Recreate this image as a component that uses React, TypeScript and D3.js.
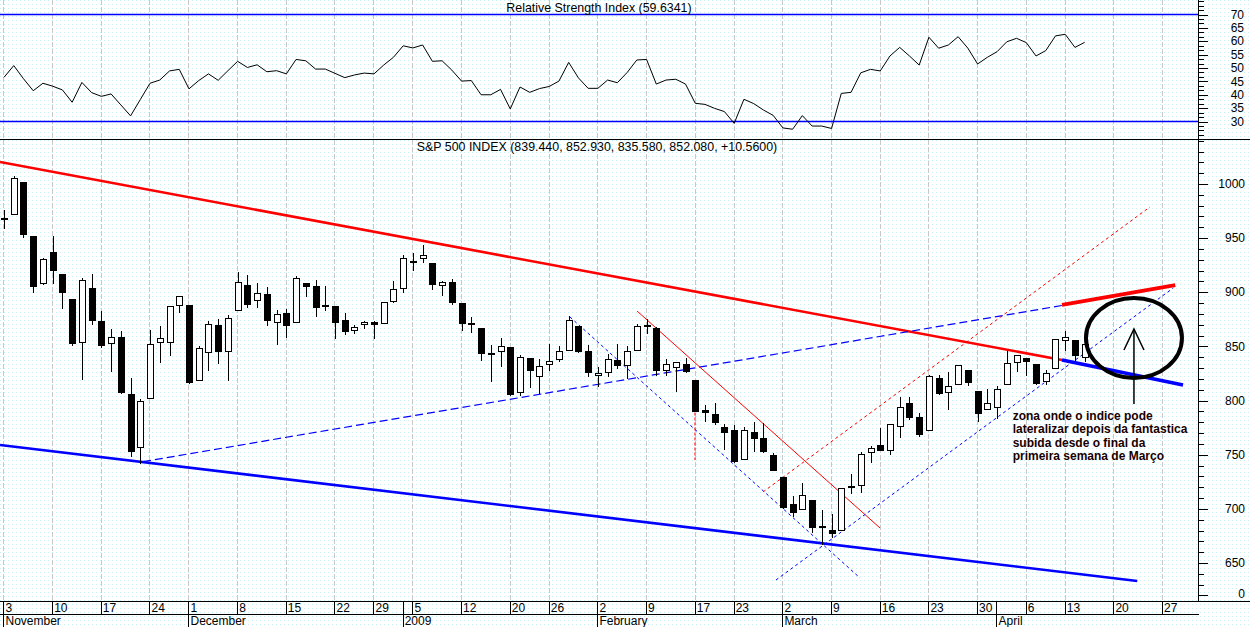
import React from 'react';
import * as d3 from 'd3';

// ---------- DATA (S&P 500 daily, Nov 3 2008 -> Apr 15 2009; index = trading day) ----------
const openP = [968.67, 971.31, 1001.84, 952.40, 907.44, 936.75, 917.15, 893.39, 853.13, 904.36, 873.23, 852.34, 859.03, 805.87, 755.84, 801.20, 853.40, 852.90, 886.89,
  888.61, 817.94, 843.60, 869.75, 844.43, 882.71, 906.48, 892.17, 898.35, 871.79, 881.07, 871.53, 908.16, 905.98, 886.96, 887.20, 874.31, 863.87, 869.51, 872.37, 870.58, 890.59,
  902.99, 929.17, 931.17, 927.45, 905.73, 909.91, 890.40, 869.79, 867.28, 841.99, 844.45, 849.64, 806.77, 839.74, 822.16, 832.50, 837.30, 845.73, 868.89, 845.69,
  823.09, 825.69, 837.77, 831.75, 846.09, 868.24, 866.87, 827.41, 829.91, 833.95, 818.61, 791.06, 787.91, 775.87, 773.25, 744.69, 770.64, 765.76, 749.93,
  729.57, 704.44, 698.60, 708.27, 684.04, 680.76, 679.28, 719.59, 720.89, 751.97, 758.84, 753.88, 776.01, 797.92, 784.58, 772.31, 820.60, 806.81, 814.06, 828.68, 809.07, 790.88,
  793.59, 814.53, 835.13, 839.75, 834.12, 816.76, 829.29, 855.33, 856.24, 839.44];
const highP = [975.57, 1007.51, 1001.84, 952.40, 931.46, 951.95, 917.15, 893.39, 913.01, 916.88, 882.29, 865.90, 864.57, 820.52, 801.20, 865.60, 868.94, 887.68, 896.25,
  888.61, 850.54, 873.12, 875.60, 879.42, 918.57, 916.26, 908.27, 904.63, 883.24, 884.63, 914.66, 908.16, 911.02, 905.47, 887.37, 880.44, 869.79, 873.74, 873.70, 891.12, 910.32,
  934.73, 936.63, 943.85, 927.45, 910.00, 911.93, 890.40, 877.02, 867.28, 851.59, 858.13, 849.64, 841.72, 839.74, 838.61, 852.53, 850.45, 877.86, 868.89, 851.66,
  830.78, 842.60, 851.85, 850.55, 870.75, 875.01, 868.05, 838.22, 835.48, 839.43, 818.61, 796.17, 797.58, 778.69, 777.85, 775.49, 780.12, 779.42, 751.27,
  729.57, 711.67, 724.12, 708.27, 699.09, 695.27, 719.60, 731.92, 752.63, 758.29, 774.53, 778.12, 803.04, 803.24, 788.91, 823.37, 823.65, 826.78, 832.98, 828.68, 809.07, 810.48,
  813.62, 845.61, 842.50, 839.75, 834.12, 828.42, 856.91, 864.31, 856.24, 852.93];
const lowP = [958.82, 971.31, 949.86, 899.73, 906.90, 907.47, 884.90, 850.48, 818.69, 869.88, 848.98, 826.84, 806.18, 747.78, 741.02, 801.20, 834.99, 841.37, 881.21,
  815.69, 817.94, 827.60, 833.60, 818.41, 882.71, 885.38, 885.45, 868.73, 851.35, 857.72, 871.53, 895.93, 877.44, 883.02, 857.09, 860.10, 861.44, 866.52, 857.07, 870.58, 889.67,
  899.35, 919.53, 927.28, 902.37, 896.81, 888.31, 864.32, 862.02, 836.93, 817.04, 830.66, 804.47, 804.30, 811.29, 806.07, 827.69, 835.40, 845.73, 844.15, 821.67,
  812.87, 821.98, 829.18, 819.91, 845.42, 861.65, 822.99, 822.30, 808.06, 825.21, 789.17, 780.43, 777.03, 754.25, 742.37, 744.69, 752.89, 751.75, 734.52,
  699.70, 692.30, 698.60, 677.93, 666.79, 672.88, 679.28, 713.85, 714.76, 742.46, 753.37, 749.93, 765.64, 781.82, 766.20, 772.31, 805.48, 791.37, 814.06, 813.43, 779.81, 790.88,
  783.32, 814.53, 826.70, 822.79, 814.53, 814.84, 829.29, 845.35, 836.49, 835.58];
const closeP = [966.30, 1005.75, 952.77, 904.88, 930.99, 919.21, 898.95, 852.30, 911.29, 873.29, 850.75, 859.12, 806.58, 752.44, 800.03, 851.81, 857.39, 887.68, 896.24,
  816.21, 848.81, 870.74, 845.22, 876.07, 909.70, 888.67, 899.24, 873.59, 879.73, 868.57, 913.18, 904.42, 885.28, 887.88, 871.63, 863.16, 868.15, 872.80, 869.42, 890.64, 903.25,
  931.80, 927.45, 934.70, 906.65, 909.73, 890.35, 870.26, 871.79, 842.62, 843.74, 850.12, 805.22, 840.24, 827.50, 831.95, 836.57, 845.71, 874.09, 845.14, 825.88,
  825.44, 838.51, 832.23, 845.85, 868.60, 869.89, 827.16, 833.74, 835.19, 826.84, 789.17, 788.42, 778.94, 770.05, 743.33, 773.14, 764.90, 752.83, 735.09,
  700.82, 696.33, 712.87, 682.55, 683.38, 676.53, 719.60, 721.36, 750.74, 756.55, 753.89, 778.12, 794.35, 784.04, 768.54, 822.92, 806.12, 813.88, 832.86, 815.94, 787.53, 797.87,
  811.08, 834.38, 842.50, 835.48, 815.55, 825.16, 856.56, 858.73, 841.50, 852.06];

const rsi = [46.5, 50.9, 46.0, 41.5, 44.3, 43.2, 41.8, 37.2, 44.6, 40.8, 39.4, 40.3, 36.2, 32.1, 38.2, 44.3, 45.5, 48.9, 49.5,
  42.2, 45.3, 47.8, 45.4, 49.0, 52.5, 50.2, 51.2, 48.6, 49.0, 47.8, 53.2, 52.7, 49.6, 49.6, 48.0, 46.4, 47.4, 48.1, 47.8, 51.1, 54.0,
  58.3, 57.5, 58.6, 52.5, 52.7, 49.2, 45.1, 45.3, 40.0, 40.0, 42.0, 34.7, 42.9, 40.9, 42.3, 43.1, 45.1, 52.1, 46.3, 42.4,
  42.4, 45.5, 44.5, 48.3, 53.0, 53.2, 44.0, 45.5, 45.8, 44.0, 36.8, 36.4, 34.9, 33.7, 29.3, 38.3, 36.7, 34.3, 32.3,
  27.6, 27.1, 32.2, 28.3, 28.3, 27.4, 40.5, 40.9, 48.2, 49.5, 48.9, 54.5, 57.7, 54.5, 51.1, 61.5, 57.4, 58.6, 61.7, 57.4, 51.5, 54.0,
  56.1, 59.8, 61.1, 59.5, 54.5, 56.5, 62.0, 62.6, 57.7, 59.6];

// x axis (trading-day index of each week start / month start)
const dayTickIdx = [0, 5, 10, 15, 19, 24, 29, 34, 38, 42, 47, 52, 56, 61, 66, 71, 75, 80, 85, 90, 95, 100, 105, 109, 114, 119];
const dayTickLabels = ['3', '10', '17', '24', '1', '8', '15', '22', '29', '5', '12', '20', '26', '2', '9', '17', '23', '2', '9', '16', '23', '30', '6', '13', '20', '27'];
const monthIdx = [0, 19, 41, 61, 80, 102];
const monthLabels = ['November', 'December', '2009', 'February', 'March', 'April'];

const priceTicks = [650, 700, 750, 800, 850, 900, 950, 1000];
const priceExtraTick = 620;
const priceExtraLabel = '0';
const rsiTicks = [30, 35, 40, 45, 50, 55, 60, 65, 70];
const rsiLevels = [70, 30];

// trend lines drawn on the price panel: (day index, price) endpoints
const trendNames = ['resist', 'resistTail', 'upperRed', 'support', 'channelBlue', 'declBlue', 'declRed', 'riseRed', 'riseBlue', 'febMark'];
const trendI1 = [-0.41, 108.67, 108.67, -0.41, 14.28, 58.13, 65.02, 77.96, 79.29, 70.97];
const trendV1 = [1020.3, 837.5, 888.3, 759.0, 743.6, 877.2, 882.7, 715.6, 634.3, 789.0];
const trendI2 = [108.67, 121.1, 120.3, 116.4, 108.67, 87.92, 89.98, 117.7, 120.1, 70.97];
const trendV2 = [837.5, 814.4, 906.7, 633.4, 887.8, 636.2, 682.3, 978.8, 904.0, 745.0];

const circleCenter = [116.06, 857.8];
const arrowI = 116.06;
const arrowFromV = 796.8;
const arrowToV = 866.1;
const noteAnchor = [103.6, 782.1];
const noteLines = ['zona onde o indice pode', 'lateralizar depois da fantastica', 'subida desde o final da', 'primeira semana de Março'];

const rsiTitle = 'Relative Strength Index (59.6341)';
const priceTitle = 'S&P 500 INDEX (839.440, 852.930, 835.580, 852.080, +10.5600)';

// ---------- STYLES ----------
const trendStyle: Record<string, { c: string; w: number; d?: string }> = {
  resist: { c: '#ff0000', w: 2.6 },
  resistTail: { c: '#0000ff', w: 3.6 },
  upperRed: { c: '#ff0000', w: 3.8 },
  support: { c: '#0000ff', w: 2.6 },
  channelBlue: { c: '#0000ff', w: 1.2, d: '8 4' },
  declBlue: { c: '#0000ff', w: 1, d: '3 3' },
  declRed: { c: '#ff0000', w: 1 },
  riseRed: { c: '#ff0000', w: 1, d: '3 3' },
  riseBlue: { c: '#0000ff', w: 1, d: '3 3' },
  febMark: { c: '#ff0000', w: 1, d: '3 2' },
};

const FONT = "'Liberation Sans', Arial, sans-serif";

export default function App() {
  const W = 1250, H = 627;
  const AX = 1198.5;
  const AXIS_TOP = 601.5, AXIS_MID = 614.5;
  const x = d3.scaleLinear().domain([0, 119]).range([4, 4 + 9.736 * 119]);
  const yP = d3.scaleLinear().domain([650, 1000]).range([563, 184]);
  const yR = d3.scaleLinear().domain([30, 70]).range([121.5, 14.5]);
  const snap = (v: number) => Math.round(v) + 0.5;

  const rsiLine = d3.line<number>().x((_, i) => x(i)).y(d => yR(d))(rsi) || '';

  const priceMinor = d3.range(priceExtraTick, 1041, 10);
  const rsiMinor = d3.range(0, 34).map(k => 20 + (k * 5) / 3).filter(v => yR(v) > 0 && yR(v) < 139);

  const gridIdx = dayTickIdx;

  return (
    <svg width={W} height={H} style={{ position: 'absolute', left: 0, top: 0, display: 'block' }} fontFamily={FONT}>
      <defs>
        <pattern id="dots" width="4" height="4" patternUnits="userSpaceOnUse">
          <rect x="0" y="0" width="1" height="1" fill="#c4f2f6" />
        </pattern>
        <clipPath id="plot">
          <rect x="0" y="0" width={AX} height={AXIS_TOP} />
        </clipPath>
      </defs>
      <rect x="0" y="0" width={W} height={H} fill="#fff" />
      <rect x="0" y="0" width={W} height={H} fill="url(#dots)" />

      {/* vertical dashed week gridlines */}
      {gridIdx.map((i, k) => (
        <line key={'g' + k} x1={snap(x(i) - 0.6)} x2={snap(x(i) - 0.6)} y1={0} y2={AXIS_TOP} stroke="#c8c8c8" strokeWidth={1} strokeDasharray="5 2" shapeRendering="crispEdges" />
      ))}

      {/* RSI panel */}
      {rsiLevels.map((v, k) => (
        <line key={'rl' + k} x1={0} x2={AX} y1={yR(v)} y2={yR(v)} stroke="#0000ff" strokeWidth={1.3} />
      ))}
      <path d={rsiLine} fill="none" stroke="#000" strokeWidth={1} />
      <text x={599} y={12} fontSize={12.4} textAnchor="middle" fill="#000">{rsiTitle}</text>

      {/* panel separator */}
      <line x1={0} x2={W} y1={139.5} y2={139.5} stroke="#000" strokeWidth={1} shapeRendering="crispEdges" />
      <text x={597} y={151} fontSize={12.4} textAnchor="middle" fill="#000">{priceTitle}</text>

      {/* trend lines */}
      <g clipPath="url(#plot)">
        {trendNames.map((n, k) => {
          const s = trendStyle[n];
          return (
            <line key={'t' + k} x1={x(trendI1[k])} y1={yP(trendV1[k])} x2={x(trendI2[k])} y2={yP(trendV2[k])}
              stroke={s.c} strokeWidth={s.w} strokeDasharray={s.d} />
          );
        })}
      </g>

      {/* candles */}
      <g shapeRendering="crispEdges">
        {openP.map((o, i) => {
          const c = closeP[i];
          const cx = Math.round(x(i));
          const up = c >= o;
          const top = Math.round(yP(Math.max(o, c)));
          const bot = Math.round(yP(Math.min(o, c)));
          const hgt = Math.max(1, bot - top);
          return (
            <g key={'c' + i}>
              <line x1={cx + 0.5} x2={cx + 0.5} y1={yP(highP[i])} y2={yP(lowP[i])} stroke="#000" strokeWidth={1} />
              {up ? (
                <rect x={cx - 3 + 0.5} y={top + 0.5} width={6} height={Math.max(1, hgt - 1)} fill="#fff" stroke="#000" strokeWidth={1} />
              ) : (
                <rect x={cx - 3} y={top} width={7} height={hgt} fill="#000" />
              )}
              {Math.abs(bot - top) < 2 && (
                <line x1={cx - 3} x2={cx + 4} y1={top + 0.5} y2={top + 0.5} stroke="#000" strokeWidth={up ? 1 : 2} />
              )}
            </g>
          );
        })}
      </g>

      {/* circle, arrow, note */}
      <ellipse cx={x(circleCenter[0])} cy={yP(circleCenter[1])} rx={48} ry={40} fill="none" stroke="#000" strokeWidth={4} />
      <line x1={x(arrowI)} x2={x(arrowI)} y1={yP(arrowFromV)} y2={yP(arrowToV)} stroke="#000" strokeWidth={1.5} />
      <polyline points={`${x(arrowI) - 10},${yP(arrowToV) + 21} ${x(arrowI)},${yP(arrowToV)} ${x(arrowI) + 10},${yP(arrowToV) + 21}`} fill="none" stroke="#000" strokeWidth={1.5} />
      {noteLines.map((t, k) => (
        <text key={'n' + k} x={x(noteAnchor[0])} y={yP(noteAnchor[1]) + k * 13.3} fontSize={12} fontWeight="bold" fill="#1a0000">{t}</text>
      ))}

      {/* right axis */}
      <line x1={AX} x2={AX} y1={0} y2={AXIS_TOP} stroke="#000" strokeWidth={1} shapeRendering="crispEdges" />
      {rsiMinor.map((v, k) => (
        <line key={'rm' + k} x1={AX} x2={AX + 5} y1={snap(yR(v))} y2={snap(yR(v))} stroke="#000" shapeRendering="crispEdges" />
      ))}
      {rsiTicks.map((v, k) => (
        <g key={'rt' + k}>
          <line x1={AX} x2={AX + 9} y1={snap(yR(v))} y2={snap(yR(v))} stroke="#000" shapeRendering="crispEdges" />
          <text x={1244} y={yR(v)} dy="0.35em" fontSize={12} textAnchor="end" fill="#000">{v}</text>
        </g>
      ))}
      {priceMinor.map((v, k) => (
        <line key={'pm' + k} x1={AX} x2={AX + 5} y1={snap(yP(v))} y2={snap(yP(v))} stroke="#000" shapeRendering="crispEdges" />
      ))}
      {priceTicks.map((v, k) => (
        <g key={'pt' + k}>
          <line x1={AX} x2={AX + 9} y1={snap(yP(v))} y2={snap(yP(v))} stroke="#000" shapeRendering="crispEdges" />
          <text x={1245} y={yP(v)} dy="0.35em" fontSize={12} textAnchor="end" fill="#000">{v}</text>
        </g>
      ))}
      <line x1={AX} x2={AX + 9} y1={snap(yP(priceExtraTick))} y2={snap(yP(priceExtraTick))} stroke="#000" shapeRendering="crispEdges" />
      <text x={1245} y={yP(priceExtraTick) - 2} dy="0.35em" fontSize={12} textAnchor="end" fill="#000">{priceExtraLabel}</text>

      {/* bottom date axis */}
      <line x1={0} x2={W} y1={AXIS_TOP} y2={AXIS_TOP} stroke="#000" strokeWidth={1} shapeRendering="crispEdges" />
      <line x1={0} x2={AX} y1={AXIS_MID} y2={AXIS_MID} stroke="#000" strokeWidth={1} shapeRendering="crispEdges" />
      {dayTickIdx.map((i, k) => (
        <g key={'d' + k}>
          <line x1={snap(x(i) - 0.6)} x2={snap(x(i) - 0.6)} y1={AXIS_TOP} y2={AXIS_MID} stroke="#000" shapeRendering="crispEdges" />
          <text x={x(i) + 1.5} y={611.5} fontSize={12} fill="#000">{dayTickLabels[k]}</text>
        </g>
      ))}
      {monthIdx.map((i, k) => (
        <g key={'m' + k}>
          <line x1={snap(x(i) - 0.6)} x2={snap(x(i) - 0.6)} y1={AXIS_TOP} y2={H} stroke="#000" shapeRendering="crispEdges" />
          <text x={x(i) + 1.5} y={625} fontSize={12} fill="#000">{monthLabels[k]}</text>
        </g>
      ))}
    </svg>
  );
}
